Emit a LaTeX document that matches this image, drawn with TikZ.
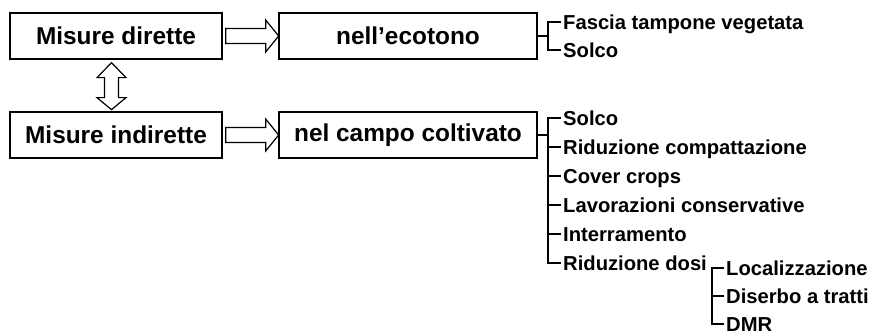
\documentclass[tikz,border=0pt]{standalone}
\usepackage{fontspec}
\setmainfont{Liberation Sans}
\usetikzlibrary{calc}
\begin{document}
\begin{tikzpicture}[x=1pt,y=-1pt,
  boxnode/.style={draw, line width=1.3pt, minimum height=46pt, inner sep=0pt,
    font=\bfseries\fontsize{24.4}{28}\selectfont},
  item/.style={anchor=west, inner xsep=2pt, inner ysep=0pt, text height=14.5pt,
    text depth=0pt, font=\bfseries\fontsize{20.2}{24}\selectfont},
  brk/.style={line width=1.2pt},
  blockarrow/.style={draw, line width=1.2pt, fill=white, line join=miter}]
\useasboundingbox (0,0) rectangle (872,334);

% boxes
\node[boxnode, minimum width=212pt] (md) at (116,36) {Misure dirette};
\node[boxnode, minimum width=212pt] (mi) at (116,135) {Misure indirette};
\node[boxnode, minimum width=258pt] (eco) at (408,36) {nell’ecotono};
\node[boxnode, minimum width=258pt] (campo) at (408,135) {nel campo coltivato};

% block arrows
\draw[blockarrow] ($(md.east)+(3,-7.5)$) -- ++(40,0) -- ++(0,-8.5) -- ++(13,16)
  -- ++(-13,16) -- ++(0,-8.5) -- ++(-40,0) -- cycle;
\draw[blockarrow] ($(mi.east)+(3,-7.5)$) -- ++(40,0) -- ++(0,-8.5) -- ++(13,16)
  -- ++(-13,16) -- ++(0,-8.5) -- ++(-40,0) -- cycle;
\draw[blockarrow] ($(md.south)+(-4.5,3)$) -- ++(14.5,15) -- ++(-7.5,0) -- ++(0,20)
  -- ++(7.5,0) -- ++(-14.5,12) -- ++(-14.5,-12) -- ++(7.5,0) -- ++(0,-20)
  -- ++(-7.5,0) -- cycle;

% bracket positions
\coordinate (bx) at (548,0);
\coordinate (sb) at (712,0);

% ecotono items
\node[item] (e1) at (561,22) {Fascia tampone vegetata};
\node[item] (e2) at (561,50) {Solco};
\draw[brk] (eco.east) -- (eco.east -| bx);
\draw[brk] (e1.west) -- (e1.west -| bx) -- (e2.west -| bx) -- (e2.west);

% campo items
\node[item] (c1) at (561,118) {Solco};
\node[item] (c2) at (561,147) {Riduzione compattazione};
\node[item] (c3) at (561,176) {Cover crops};
\node[item] (c4) at (561,205) {Lavorazioni conservative};
\node[item] (c5) at (561,234) {Interramento};
\node[item] (c6) at (561,263) {Riduzione dosi};
\draw[brk] (campo.east) -- (campo.east -| bx);
\draw[brk] (c1.west) -- (c1.west -| bx) -- (c6.west -| bx) -- (c6.west);
\foreach \n in {c2,c3,c4,c5} \draw[brk] (\n.west) -- (\n.west -| bx);

% sub items
\node[item] (s1) at (724,268) {Localizzazione};
\node[item] (s2) at (724,296) {Diserbo a tratti};
\node[item] (s3) at (724,324) {DMR};
\draw[brk] (s1.west) -- (s1.west -| sb) -- (s3.west -| sb) -- (s3.west);
\draw[brk] (s2.west) -- (s2.west -| sb);
\end{tikzpicture}
\end{document}
